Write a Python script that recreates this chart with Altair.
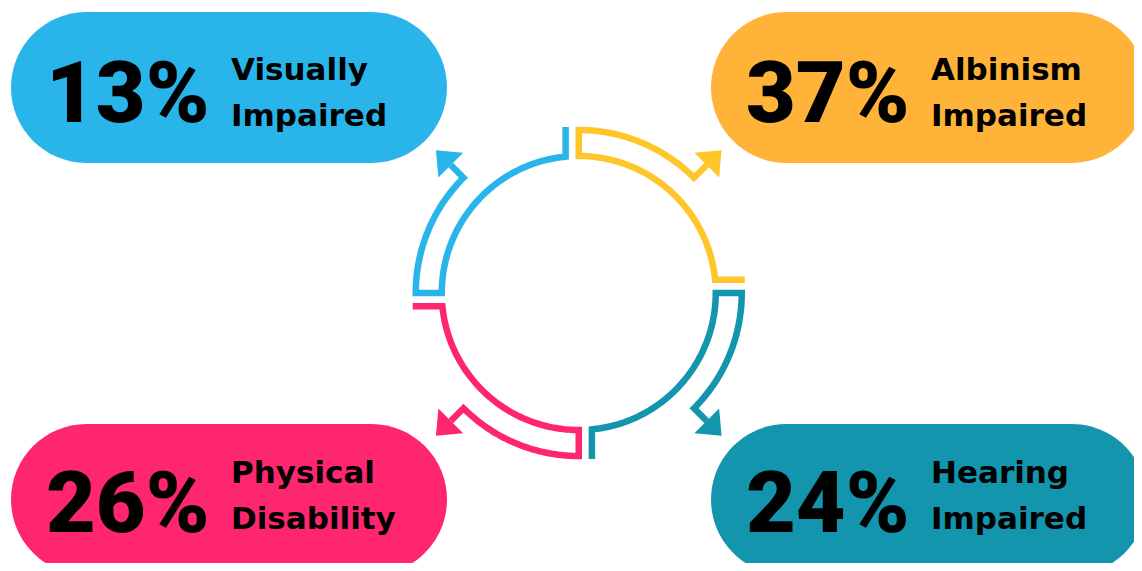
import altair as alt
import numpy as np
import pandas as pd

# ---- data --------------------------------------------------------------
categories = ["Visually Impaired", "Albinism Impaired", "Hearing Impaired", "Physical Disability"]
label_line1 = ["Visually", "Albinism", "Hearing", "Physical"]
label_line2 = ["Impaired", "Impaired", "Impaired", "Disability"]
percentages = [13, 37, 24, 26]

# ---- styles ------------------------------------------------------------
pill_colors = ["#29B5E9", "#FFB338", "#1495AE", "#FF2670"]
arrow_colors = ["#29B5E9", "#FFC62A", "#1495AE", "#FF2670"]

# ---- layout (page pixel coordinates) ----------------------------------
card_x0 = [11, 711, 711, 11]
card_y0 = [12, 12, 424, 424]
card_w, card_h = 436, 151
num_dx = 35
lab_dx = 220
num_base = {12: 122, 424: 532}
lab_base = {12: (80, 126), 424: (483, 529)}
quadrant = [3, 0, 1, 2]          # rotation (x 90 deg clockwise) of the arrow shape
CX, CY = 578.75, 293.0
R_IN, R_OUT = 137.0, 163.0

X0, X1, Y0, Y1 = 8, 1134, 8, 563
W, H = X1 - X0, Y1 - Y0

cards = pd.DataFrame({
    "cat": categories,
    "x": card_x0,
    "x2": [v + card_w for v in card_x0],
    "y": card_y0,
    "y2": [v + card_h for v in card_y0],
})

texts = []
for i, c in enumerate(categories):
    texts.append({"cat": c, "kind": "num", "t": f"{percentages[i]}%",
                  "x": card_x0[i] + num_dx, "y": num_base[card_y0[i]]})
    texts.append({"cat": c, "kind": "lab", "t": label_line1[i],
                  "x": card_x0[i] + lab_dx, "y": lab_base[card_y0[i]][0]})
    texts.append({"cat": c, "kind": "lab", "t": label_line2[i],
                  "x": card_x0[i] + lab_dx, "y": lab_base[card_y0[i]][1]})
texts = pd.DataFrame(texts)


def local_path():
    pts = []
    end_a = np.radians(84.5)
    pts.append((166.0, -R_IN * np.cos(end_a)))
    for a in np.linspace(84.5, 0, 80):
        r = np.radians(a)
        pts.append((R_IN * np.sin(r), -R_IN * np.cos(r)))
    for a in np.linspace(0, 45, 50):
        r = np.radians(a)
        pts.append((R_OUT * np.sin(r), -R_OUT * np.cos(r)))
    r = np.radians(45)
    pts.append((181 * np.sin(r), -181 * np.cos(r)))
    return pts


def rot(p, k):
    x, y = p
    for _ in range(k):
        x, y = -y, x
    return x, y


rows, heads = [], []
lp = local_path()
for i, c in enumerate(categories):
    k = quadrant[i]
    for j, p in enumerate(lp):
        x, y = rot(p, k)
        rows.append({"cat": c, "o": j, "x": CX + x, "y": CY + y})
    r = np.radians(45)
    hx, hy = rot((191.5 * np.sin(r), -191.5 * np.cos(r)), k)
    heads.append({"cat": c, "x": CX + hx, "y": CY + hy, "ang": 45 + 90 * k})
paths = pd.DataFrame(rows)
heads = pd.DataFrame(heads)

xs = alt.Scale(domain=[X0, X1], nice=False, zero=False)
ys = alt.Scale(domain=[Y0, Y1], nice=False, zero=False, reverse=True)
pill_scale = alt.Scale(domain=categories, range=pill_colors)
arrow_scale = alt.Scale(domain=categories, range=arrow_colors)

pills = alt.Chart(cards).mark_rect(cornerRadius=75.5).encode(
    x=alt.X("x:Q", scale=xs, axis=None),
    x2="x2:Q",
    y=alt.Y("y:Q", scale=ys, axis=None),
    y2="y2:Q",
    color=alt.Color("cat:N", scale=pill_scale, legend=None),
)

lines = alt.Chart(paths).mark_line(strokeWidth=6.5, strokeJoin="miter", strokeCap="butt").encode(
    x=alt.X("x:Q", scale=xs, axis=None),
    y=alt.Y("y:Q", scale=ys, axis=None),
    order="o:Q",
    detail="cat:N",
    color=alt.Color("cat:N", scale=arrow_scale, legend=None),
)

arrowheads = alt.Chart(heads).mark_point(
    shape="M0,-0.6L1,0.6L-1,0.6Z", size=1225, filled=True, opacity=1, strokeWidth=0
).encode(
    x=alt.X("x:Q", scale=xs, axis=None),
    y=alt.Y("y:Q", scale=ys, axis=None),
    angle=alt.Angle("ang:Q", scale=None),
    color=alt.Color("cat:N", scale=arrow_scale, legend=None),
)

nums = alt.Chart(texts).transform_filter(alt.datum.kind == "num").mark_text(
    font="Roboto", fontWeight=900, fontSize=86, align="left", baseline="alphabetic", color="#000000"
).encode(
    x=alt.X("x:Q", scale=xs, axis=None),
    y=alt.Y("y:Q", scale=ys, axis=None),
    text="t:N",
)

labs = alt.Chart(texts).transform_filter(alt.datum.kind == "lab").mark_text(
    font="DejaVu Sans", fontWeight="bold", fontSize=31, align="left", baseline="alphabetic", color="#000000"
).encode(
    x=alt.X("x:Q", scale=xs, axis=None),
    y=alt.Y("y:Q", scale=ys, axis=None),
    text="t:N",
)

chart = alt.layer(pills, lines, arrowheads, nums, labs).resolve_scale(color="independent").properties(
    width=W, height=H, padding=0, autosize=alt.AutoSizeParams(type="none")
).configure_view(stroke=None)

chart.save("out.html", embed_options={"renderer": "svg", "actions": False})
